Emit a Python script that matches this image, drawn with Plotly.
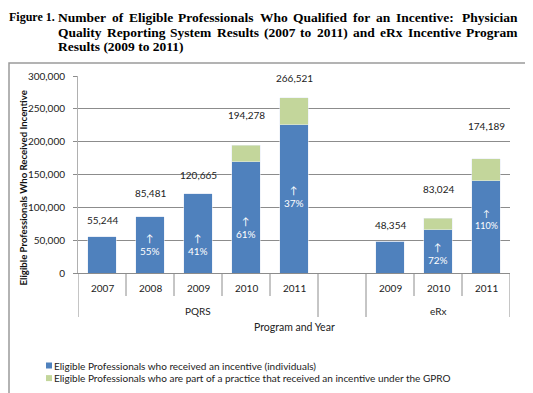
import plotly.graph_objects as go

# ---------------- data ----------------
years = ["2007", "2008", "2009", "2010", "2011", "", "2009", "2010", "2011"]
programs = ["PQRS", "eRx"]
program_slots = [[0, 1, 2, 3, 4], [6, 7, 8]]
individuals = [55244, 85481, 120665, 169500, 225500, None, 48354, 65500, 140500]
totals = [55244, 85481, 120665, 194278, 266521, None, 48354, 83024, 174189]
growth = [None, "55%", "41%", "61%", "37%", None, None, "72%", "110%"]
series_names = [
    "Eligible Professionals who received an incentive (individuals)",
    "Eligible Professionals who are part of a practice that received an incentive under the GPRO",
]
y_ticks = [0, 50000, 100000, 150000, 200000, 250000, 300000]
title_label = "Figure 1."
title_lines = [
    "Number of Eligible Professionals Who Qualified for an Incentive:  Physician",
    "Quality Reporting System Results (2007 to 2011) and eRx Incentive Program",
    "Results (2009 to 2011)",
]

gpro = [None if t is None else t - i for t, i in zip(totals, individuals)]

# ---------------- geometry (screen px; page body has an 8px margin) ----------------
OFF = 8
W, H = 533 - OFF, 393 - OFF
PL, PR, PT, PB = 78, 510, 76, 273  # plot area in screen px
ML, MR, MT, MB = PL - OFF, W - (PR - OFF), PT - OFF, H - (PB - OFF)


def px2x(px):
    return (px - PL) / (PR - PL)


def py2y(py):
    return (PB - py) / (PB - PT)


# label positions (layout, in data units)
total_label_y = [81000, 122000, 149000, 241000, 297000, None, 73000, 128000, 224000]
growth_label_y = [None, 43000, 43000, 69000, 116000, None, None, 29000, 82000]

BLUE = "#4F81BD"
GREEN = "#C3D69B"
FONT = "Lato"
TXT = "#222222"
GRID = "#8C8C8C"

xs = list(range(len(years)))

fig = go.Figure()
fig.add_trace(go.Bar(x=xs, y=individuals, marker_color=BLUE, width=0.6,
                     name=series_names[0], showlegend=False, hoverinfo="y"))
fig.add_trace(go.Bar(x=xs, y=gpro, marker_color=GREEN, width=0.6,
                     name=series_names[1], showlegend=False, hoverinfo="y"))

annotations = []
shapes = []


def ann(**kw):
    d = dict(showarrow=False, xanchor="center", yanchor="middle", borderpad=0, borderwidth=0)
    d.update(kw)
    annotations.append(d)


# total labels
for x, t, ly in zip(xs, totals, total_label_y):
    if t is None:
        continue
    ann(x=x, y=ly, xref="x", yref="y", text=f"{t:,}",
        font=dict(family=FONT, size=10, color=TXT))

# growth labels
for x, g, ly in zip(xs, growth, growth_label_y):
    if g is None:
        continue
    ann(x=x, y=ly, xref="x", yref="y", text=f"↑<br>{g}",
        font=dict(family=FONT, size=10 if len(g) < 4 else 9, color="white"))

# year labels
for x, yr in zip(xs, years):
    if yr:
        ann(x=x, y=py2y(288), xref="x", yref="paper", text=yr,
            font=dict(family=FONT, size=10, color=TXT))

# dividers
group_edges = set()
for slots in program_slots:
    group_edges.add(slots[0] - 0.5)
    group_edges.add(slots[-1] + 0.5)
for k in range(len(years) + 1):
    b = k - 0.5
    bottom = 317 if b in group_edges else 296
    shapes.append(dict(type="line", xref="x", yref="paper", x0=b, x1=b,
                       y0=py2y(PB), y1=py2y(bottom), line=dict(color=GRID, width=1)))

# program labels
for name, slots in zip(programs, program_slots):
    ann(x=(slots[0] + slots[-1]) / 2, y=py2y(311), xref="x", yref="paper", text=name,
        font=dict(family=FONT, size=10, color=TXT))

ann(x=0.5, y=py2y(327), xref="paper", yref="paper", text="Program and Year",
    font=dict(family=FONT, size=10.5, color=TXT))

# y-axis title
ann(x=px2x(22.5), y=py2y(188), xref="paper", yref="paper",
    text="<b>Eligible Professionals Who Received Incentive</b>", textangle=-90,
    font=dict(family=FONT, size=9.6, color="#111111"))

# legend (manual)
for i, (nm, col) in enumerate(zip(series_names, [BLUE, GREEN])):
    cy = 365.5 + i * 12.6
    shapes.append(dict(type="rect", xref="paper", yref="paper",
                       x0=px2x(46), x1=px2x(52), y0=py2y(cy - 3), y1=py2y(cy + 3),
                       fillcolor=col, line=dict(width=0)))
    ann(x=px2x(54), y=py2y(cy), xref="paper", yref="paper", text=nm, xanchor="left",
        font=dict(family=FONT, size=10, color=TXT))

# chart border
shapes.append(dict(type="rect", xref="paper", yref="paper",
                   x0=px2x(9), x1=px2x(527), y0=py2y(63), y1=py2y(400),
                   line=dict(color="#9A9A9A", width=1.5)))

# ---------------- title (justified like the source) ----------------
TF = "Liberation Serif"
TS = 13.5
# Times-Bold advance widths (per 1000 em)
TW = {" ": 250, "(": 333, ")": 333, ":": 333, ".": 250, ",": 250}
TW.update({d: 500 for d in "0123456789"})
TW.update(dict(zip("abcdefghijklmnopqrstuvwxyz",
                   [500, 556, 444, 556, 444, 333, 500, 556, 278, 333, 556, 278, 833,
                    556, 500, 556, 556, 444, 389, 333, 556, 500, 722, 500, 500, 444])))
TW.update(dict(zip("ABCDEFGHIJKLMNOPQRSTUVWXYZ",
                   [722, 667, 722, 722, 667, 611, 778, 778, 389, 500, 778, 667, 944,
                    722, 778, 611, 778, 722, 556, 667, 722, 722, 1000, 722, 722, 667])))


def tw(s):
    return sum(TW.get(c, 500) for c in s) / 1000 * TS


TX0, TX1 = 58, 518
TY0, TDY = 17, 15
ann(x=px2x(8.5), y=py2y(TY0), xref="paper", yref="paper", text=f"<b>{title_label}</b>",
    xanchor="left", font=dict(family=TF, size=12, color="black"))
for i, ln in enumerate(title_lines):
    ty = py2y(TY0 + i * TDY)
    if i == len(title_lines) - 1:
        ann(x=px2x(TX0), y=ty, xref="paper", yref="paper", text=f"<b>{ln}</b>",
            xanchor="left", font=dict(family=TF, size=TS, color="black"))
        continue
    parts = ln.split(" ")
    words = [p for p in parts if p]
    gaps = []
    for p in parts[:-1]:
        if p:
            gaps.append(tw(" "))
        else:
            gaps[-1] += tw(" ")
    natural = sum(tw(w) for w in words) + sum(gaps)
    extra = (TX1 - TX0 - natural) / len(gaps)
    cx = TX0
    for k, w in enumerate(words):
        ann(x=px2x(cx), y=ty, xref="paper", yref="paper", text=f"<b>{w}</b>",
            xanchor="left", font=dict(family=TF, size=TS, color="black"))
        if k < len(gaps):
            cx += tw(w) + gaps[k] + extra

fig.update_layout(
    width=W, height=H,
    margin=dict(l=ML, r=MR, t=MT, b=MB, pad=0, autoexpand=False),
    barmode="stack",
    paper_bgcolor="white", plot_bgcolor="white",
    showlegend=False,
    xaxis=dict(range=[-0.5, len(years) - 0.5], showticklabels=False, ticks="",
               showgrid=False, zeroline=False, showline=True, linecolor=GRID, linewidth=1),
    yaxis=dict(range=[0, 300000], tickvals=y_ticks,
               ticktext=[f"{v:,}" for v in y_ticks],
               tickfont=dict(family=FONT, size=10, color=TXT),
               showgrid=True, gridcolor=GRID, gridwidth=1, zeroline=False,
               showline=True, linecolor="#B0B0B0", linewidth=1,
               ticks="outside", ticklen=4, tickcolor=GRID, ticklabelstandoff=6,
               automargin=False),
    annotations=annotations, shapes=shapes,
)

fig.write_html("out.html")
